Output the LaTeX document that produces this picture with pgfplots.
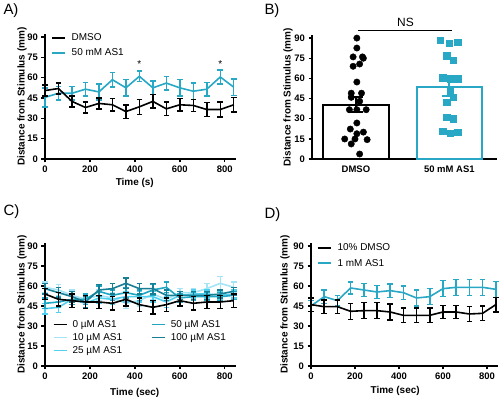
\documentclass[border=0pt]{standalone}
\usepackage{pgfplots}
\pgfplotsset{compat=1.18}
\usepackage{fontspec}
\setmainfont{Liberation Sans}
\definecolor{tealA}{RGB}{40,168,196}
\definecolor{cTen}{RGB}{165,228,245}
\definecolor{cTwentyFive}{RGB}{80,208,238}
\definecolor{cFifty}{RGB}{30,166,194}
\definecolor{cHundred}{RGB}{24,126,148}
\pgfplotsset{
  gp/.style={
    scale only axis, anchor=south west,
    axis lines*=left,
    axis line style={line width=1.4bp, black},
    every tick/.style={line width=1.4bp, black},
    major tick length=3.5bp, tick align=outside,
    ymin=0, ymax=92, ytick={0,15,...,90},
    /pgf/number format/assume math mode=true,
    ticklabel style={font=\bfseries\fontsize{9.5}{11}\selectfont},
    label style={font=\bfseries\fontsize{10}{12}\selectfont},
    ylabel={Distance from Stimulus (mm)},
    clip=false,
    legend cell align=left,
    legend image code/.code={\draw[##1, line width=1.8bp] (0bp,0bp) -- (13bp,0bp);},
  },
  ln/.style={line width=1.6bp, #1, mark=none,
    error bars/y dir=both, error bars/y explicit,
    error bars/error bar style={line width=1.5bp, #1},
    error bars/error mark options={rotate=90, mark size=2.8bp, line width=1.5bp, #1}},
}
\begin{document}
\begin{tikzpicture}
\path[use as bounding box] (0,0) rectangle (500bp,397bp);
\node[anchor=west, font=\fontsize{15}{17}\selectfont] at (0bp,386bp) {A)};
\node[anchor=west, font=\fontsize{15}{17}\selectfont] at (261bp,386bp) {B)};
\node[anchor=west, font=\fontsize{15}{17}\selectfont] at (0bp,185bp) {C)};
\node[anchor=west, font=\fontsize{15}{17}\selectfont] at (261bp,182bp) {D)};

% ---------- Panel A ----------
\begin{axis}[gp, at={(45bp,238bp)}, width=191bp, height=124.7bp,
  xmin=0, xmax=850, xtick={0,200,...,800},
  xlabel={Time (s)},
  xlabel style={at={(axis description cs:0.47,-0.19)}, anchor=center},
  ylabel style={at={(axis description cs:-0.12,0.5)}, anchor=center},
  legend style={at={(axis description cs:0.03,1.025)}, anchor=north west, draw=none, fill=none,
    font=\fontsize{10}{12}\selectfont, row sep=3bp, inner sep=0bp,
    /tikz/every odd column/.append style={column sep=4bp}},
]
\addlegendimage{black}\addlegendentry{DMSO}
\addlegendimage{tealA}\addlegendentry{50 mM AS1}
\addplot[forget plot, ln=tealA] table[x=x, y=y, y error=e] {
x y e
0 45.5 7
60 48.5 5
120 48.5 5
180 51.5 5
240 49.5 6
300 58.5 5.5
360 52.5 6
420 61 4
480 52.5 5
540 56 5
600 52.5 6
660 50 6
720 51.5 5
780 60.5 5
840 53 6
};
\addplot[forget plot, ln=black] table[x=x, y=y, y error=e] {
x y e
0 50.5 4
60 52 4
120 42.5 4
180 38 4
240 41 4
300 40 4.5
360 35 5
420 38.5 5.5
480 42.5 5
540 37 5
600 40 4.5
660 39.5 4.5
720 36.5 5
780 36.5 5.5
840 40 5.5
};
\node[font=\fontsize{10}{12}\selectfont] at (axis cs:420,70) {*};
\node[font=\fontsize{10}{12}\selectfont] at (axis cs:780,70) {*};
\end{axis}

% ---------- Panel B ----------
\begin{axis}[gp, at={(312bp,238bp)}, width=185bp, height=123.6bp,
  xmin=-0.47, xmax=1.51, xtick={0,1}, xticklabels={DMSO, 50 mM AS1},
  x tick style={draw=none},
  ylabel style={at={(axis description cs:-0.13,0.5)}, anchor=center},
]
\addplot[ybar, bar width=0.70, bar shift=0pt, fill=white, draw=black, line width=1.9bp,
  error bars/.cd, y dir=both, y explicit,
  error bar style={line width=1.9bp, black},
  error mark options={rotate=90, mark size=7.5bp, line width=1.9bp, black}]
  coordinates {(0,40.5) +- (0,5.7)};
\addplot[ybar, bar width=0.70, bar shift=0pt, fill=white, draw=tealA, line width=1.9bp,
  error bars/.cd, y dir=both, y explicit,
  error bar style={line width=1.9bp, tealA},
  error mark options={rotate=90, mark size=7.5bp, line width=1.9bp, tealA}]
  coordinates {(1,53.3) +- (0,6.2)};
\addplot[only marks, mark=*, mark size=3.2bp, black] coordinates {
(0.01,90) (0.01,82.6) (-0.03,76) (0.07,76) (0.08,75) (-0.03,69) (0.04,70.7)
(0.01,57.3) (-0.05,49) (0.06,49) (-0.05,45.9) (0.04,43)
(-0.07,36.7) (0.01,36.7) (0.11,36.7) (0.01,26.8) (-0.06,22.3) (0.08,20)
(0.01,18.8) (-0.12,14.9) (-0.01,14.9) (0.12,14.4) (-0.05,11.2) (0.04,3.7)
};
\addplot[only marks, mark=square*, mark size=3.3bp, tealA] coordinates {
(0.90,88.3) (1.00,86.3) (1.09,87) (0.97,77) (1.04,73.4)
(0.93,60.5) (1.01,59.8) (1.09,59.8) (1.01,51) (1.04,45.9) (0.97,42.4)
(0.97,31) (1.04,30) (0.93,20.6) (1.01,19.3) (1.09,20)
};
\addplot[line width=1.4bp, black, mark=none] coordinates {(0.02,95.5) (1.03,95.5)};
\node[font=\fontsize{12}{14}\selectfont] at (axis cs:0.53,101.5) {NS};
\end{axis}

% ---------- Panel C ----------
\begin{axis}[gp, at={(45bp,31bp)}, width=191bp, height=122.7bp,
  xmin=0, xmax=850, xtick={0,200,...,800},
  xlabel={Time (sec)},
  xlabel style={at={(axis description cs:0.47,-0.22)}, anchor=center},
  ylabel style={at={(axis description cs:-0.12,0.5)}, anchor=center},
  legend columns=2,
  legend style={at={(axis description cs:0.04,0.39)}, anchor=north west, draw=none, fill=none,
    font=\fontsize{10}{12}\selectfont, inner sep=0bp, row sep=0.5bp,
    /tikz/every odd column/.append style={column sep=3bp},
    /tikz/every even column/.append style={column sep=27bp}},
]
\addlegendimage{black}\addlegendentry{0 µM AS1}
\addlegendimage{cFifty}\addlegendentry{50 µM AS1}
\addlegendimage{cTen}\addlegendentry{10 µM AS1}
\addlegendimage{cHundred}\addlegendentry{100 µM AS1}
\addlegendimage{cTwentyFive}\addlegendentry{25 µM AS1}
\addplot[forget plot, ln=cTen] table[x=x, y=y, y error=e] {
x y e
0 59 4
60 57 4
120 53 4
180 50 4
240 53 4
300 51 4
360 47 4
420 49 4
480 54 4
540 50 4
600 55 3
660 55 3
720 58 4
780 62 5
840 59 4
};
\addplot[forget plot, ln=cTwentyFive] table[x=x, y=y, y error=e] {
x y e
0 43 4
60 44 4
120 50 4
180 47 4
240 51 4
300 50 4
360 52 4
420 52 4
480 52 4
540 48 4
600 53 3
660 54 3
720 54 3
780 53 3
840 54 3
};
\addplot[forget plot, ln=cFifty] table[x=x, y=y, y error=e] {
x y e
0 47 4
60 48 4
120 50 4
180 50 4
240 56 4
300 53 4
360 55 4
420 53 4
480 57 4
540 59 4
600 51 3
660 52 3
720 52 3
780 52 3
840 53 3
};
\addplot[forget plot, ln=cHundred] table[x=x, y=y, y error=e] {
x y e
0 58 4
60 55 4
120 52 4
180 48 4
240 57 4
300 58 4
360 62 4
420 58 4
480 58 4
540 53 4
600 53 3
660 53 3
720 53 3
780 54 3
840 56 3
};
\addplot[forget plot, ln=black] table[x=x, y=y, y error=e] {
x y e
0 54 4
60 50 5
120 49 5
180 48 5
240 48 5
300 47 5
360 50 5
420 46 5
480 44 5
540 46 5
600 49 4
660 47 5
720 48 5
780 48 5
840 49 5
};
\end{axis}

% ---------- Panel D ----------
\begin{axis}[gp, at={(311bp,31bp)}, width=187bp, height=122.7bp,
  xmin=0, xmax=850, xtick={0,200,...,800},
  xlabel={Time (sec)},
  xlabel style={at={(axis description cs:0.45,-0.205)}, anchor=center},
  ylabel style={at={(axis description cs:-0.139,0.5)}, anchor=center},
  legend style={at={(axis description cs:0.03,1.015)}, anchor=north west, draw=none, fill=none,
    font=\fontsize{10}{12}\selectfont, row sep=3bp, inner sep=0bp,
    /tikz/every odd column/.append style={column sep=4bp}},
]
\addlegendimage{black}\addlegendentry{10\% DMSO}
\addlegendimage{tealA}\addlegendentry{1 mM AS1}
\addplot[forget plot, ln=tealA] table[x=x, y=y, y error=e] {
x y e
0 45 4
60 52 5
120 49 4
180 58.5 4.5
240 57 5
300 55.5 5
360 56.5 5
420 55 5
480 51 6
540 52 6
600 58 6
660 59 6
720 59 6
780 59 6
840 57.5 6
};
\addplot[forget plot, ln=black] table[x=x, y=y, y error=e] {
x y e
0 46 5
60 44.5 5
120 44.5 5
180 41 6
240 41.5 6
300 41.5 6
360 40.5 6
420 38 5.5
480 38 5.5
540 38 5.5
600 40.5 5
660 40.5 5
720 39 5.5
780 39.5 5.5
840 46 5.5
};
\end{axis}
\end{tikzpicture}
\end{document}
